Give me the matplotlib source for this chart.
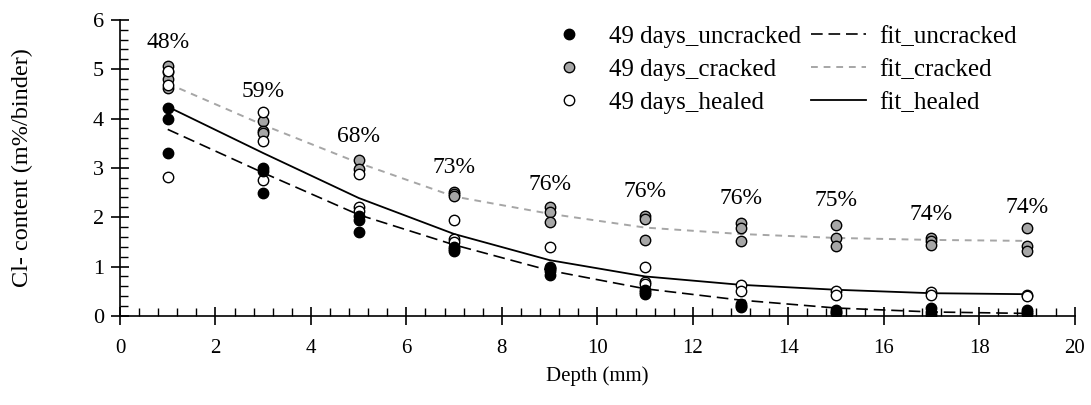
import matplotlib
matplotlib.use("Agg")
import matplotlib.pyplot as plt
from matplotlib.ticker import MultipleLocator

plt.rcParams["font.family"] = ["Liberation Serif", "DejaVu Serif"]

# --- dane ---
glebokosc = [1, 3, 5, 7, 9, 11, 13, 15, 17, 19]

uncracked = [[4.22, 4.00, 3.31], [3.00, 2.93, 2.50], [2.03, 1.94, 1.71],
             [1.39, 1.35, 1.32], [0.97, 0.92, 0.82], [0.52, 0.48, 0.45],
             [0.25, 0.21, 0.18], [0.11, 0.08, 0.06], [0.15, 0.08, 0.02],
             [0.11, 0.07, 0.04]]
cracked = [[5.07, 4.95, 4.80, 4.62], [3.95, 3.75, 3.70], [3.15, 2.97],
           [2.52, 2.47, 2.43], [2.21, 2.11, 1.91], [2.03, 1.96, 1.54],
           [1.89, 1.78, 1.51], [1.85, 1.58, 1.42], [1.58, 1.51, 1.44],
           [1.78, 1.42, 1.32]]
healed = [[4.97, 4.67, 2.82], [4.14, 3.55, 2.75], [2.87, 2.21, 2.13],
          [1.95, 1.56, 1.49], [1.40, 0.99, 0.95], [0.99, 0.68, 0.65],
          [0.62, 0.50], [0.50, 0.42], [0.48, 0.42], [0.42, 0.40]]

fit_uncracked = [3.78, 2.90, 2.05, 1.44, 0.92, 0.55, 0.32, 0.16, 0.08, 0.05]
fit_cracked = [4.71, 3.87, 3.10, 2.42, 2.07, 1.79, 1.66, 1.58, 1.54, 1.52]
fit_healed = [4.24, 3.30, 2.39, 1.66, 1.13, 0.80, 0.63, 0.53, 0.46, 0.44]

procenty = ["48%", "59%", "68%", "73%", "76%", "76%", "76%", "75%", "74%", "74%"]
procenty_y = [5.55, 4.55, 3.64, 3.00, 2.66, 2.52, 2.38, 2.33, 2.06, 2.19]


def rozwin(dane):
    xs = []
    ys = []
    for i in range(len(glebokosc)):
        for v in dane[i]:
            xs.append(glebokosc[i])
            ys.append(v)
    return xs, ys


# --- wykres ---
fig = plt.figure(figsize=(10.91, 4.05), dpi=100)
ax = fig.add_axes([0.110, 0.220, 0.875, 0.731])

szary = "#a6a6a6"
ms = 7.5

xs, ys = rozwin(cracked)
h2, = ax.plot(xs, ys, "o", ms=ms, mfc=szary, mec="black", mew=1.0,
              label="49 days_cracked", zorder=3)
xs, ys = rozwin(healed)
h3, = ax.plot(xs, ys, "o", ms=ms, mfc="white", mec="black", mew=1.0,
              label="49 days_healed", zorder=4)
xs, ys = rozwin(uncracked)
h1, = ax.plot(xs, ys, "o", ms=ms, mfc="black", mec="black", mew=1.0,
              label="49 days_uncracked", zorder=5)

f1, = ax.plot(glebokosc, fit_uncracked, color="black", lw=1.2,
              dashes=(7, 3.5), label="fit_uncracked", zorder=2)
f2, = ax.plot(glebokosc, fit_cracked, color=szary, lw=1.4,
              dashes=(3.5, 3), label="fit_cracked", zorder=2)
f3, = ax.plot(glebokosc, fit_healed, color="black", lw=1.3,
              label="fit_healed", zorder=2)

for i in range(len(glebokosc)):
    ax.text(glebokosc[i], procenty_y[i], procenty[i], ha="center",
            va="center", fontsize=17)

ax.set_xlim(0, 20)
ax.set_ylim(0, 6)
ax.xaxis.set_major_locator(MultipleLocator(2))
ax.xaxis.set_minor_locator(MultipleLocator(0.4))
ax.yaxis.set_major_locator(MultipleLocator(1))
ax.yaxis.set_minor_locator(MultipleLocator(0.2))
ax.spines["top"].set_visible(False)
ax.spines["right"].set_visible(False)
ax.spines["left"].set_linewidth(1.2)
ax.spines["bottom"].set_linewidth(1.2)
ax.tick_params(which="minor", direction="in", length=6, width=1.0)
ax.tick_params(axis="x", which="major", direction="inout", length=13,
               width=1.2, pad=10, labelsize=15)
ax.tick_params(axis="y", which="major", direction="inout", length=13,
               width=1.2, pad=5, labelsize=16)

ax.set_xlabel("Depth (mm)", fontsize=15, labelpad=6)
ax.set_ylabel("Cl- content (m%/binder)", fontsize=17.5, labelpad=43)

ax.legend(handles=[h1, h2, h3, f1, f2, f3], ncol=2, frameon=False,
          loc="upper right", bbox_to_anchor=(0.95, 1.015), fontsize=18,
          handlelength=2.2, handletextpad=0.52, columnspacing=0.4,
          labelspacing=0.42, borderaxespad=0)

fig.savefig("out.png", dpi=100)
